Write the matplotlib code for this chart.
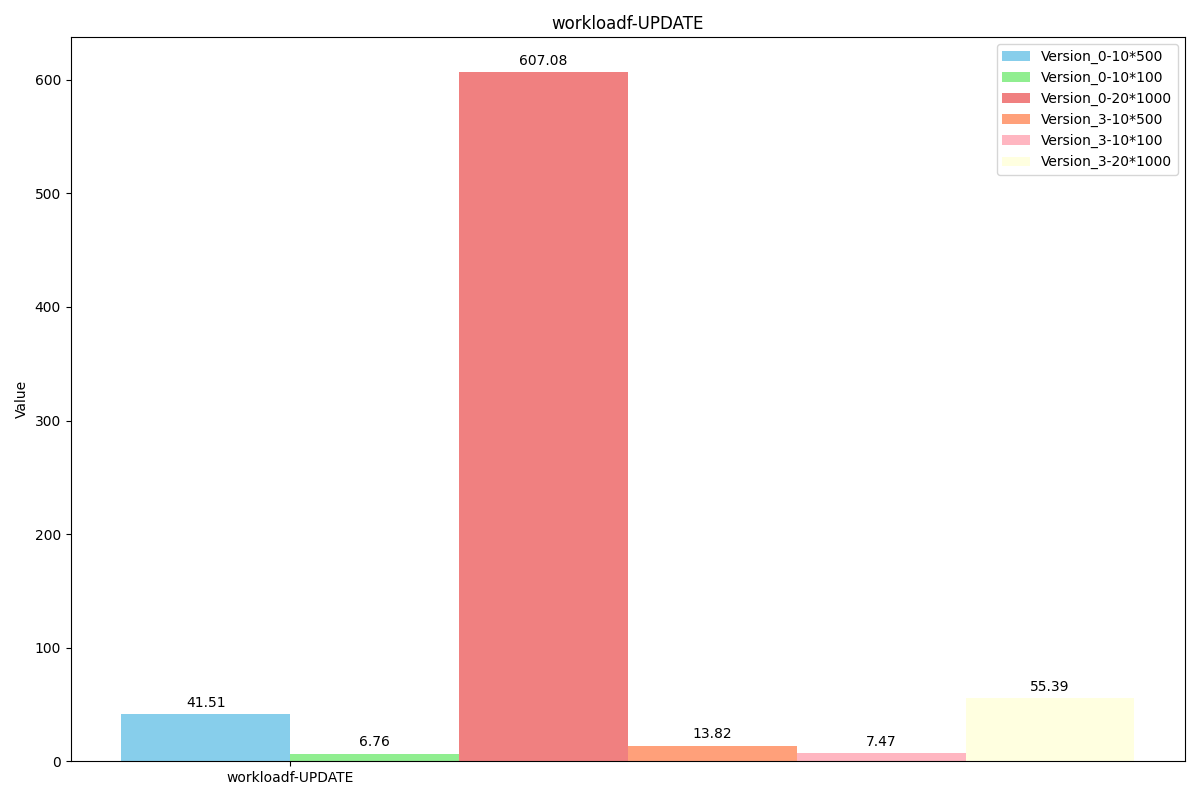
import numpy as np
import matplotlib
matplotlib.use("Agg")
import matplotlib.pyplot as plt

# Data
categories = ['workloadf-UPDATE']
versions = ['Version_0-10*500', 'Version_0-10*100', 'Version_0-20*1000',
            'Version_3-10*500', 'Version_3-10*100', 'Version_3-20*1000']
values = [41.51, 6.76, 607.08, 13.82, 7.47, 55.39]
colors = ['skyblue', 'lightgreen', 'lightcoral', 'lightsalmon', 'lightpink', 'lightyellow']

x = np.arange(len(categories))
width = 0.15

fig, ax = plt.subplots(figsize=(12, 8), dpi=100)
for i, (ver, val) in enumerate(zip(versions, values)):
    bars = ax.bar(x + i * width, [val], width, label=ver, color=colors[i])
    for b in bars:
        h = b.get_height()
        ax.annotate(f'{h:.2f}', xy=(b.get_x() + b.get_width() / 2, h),
                    xytext=(0, 3), textcoords='offset points',
                    ha='center', va='bottom')

ax.set_ylabel('Value')
ax.set_title('workloadf-UPDATE')
ax.set_xticks(x + width / 2)
ax.set_xticklabels(categories)
ax.legend()
plt.tight_layout()
plt.savefig('out.png')
